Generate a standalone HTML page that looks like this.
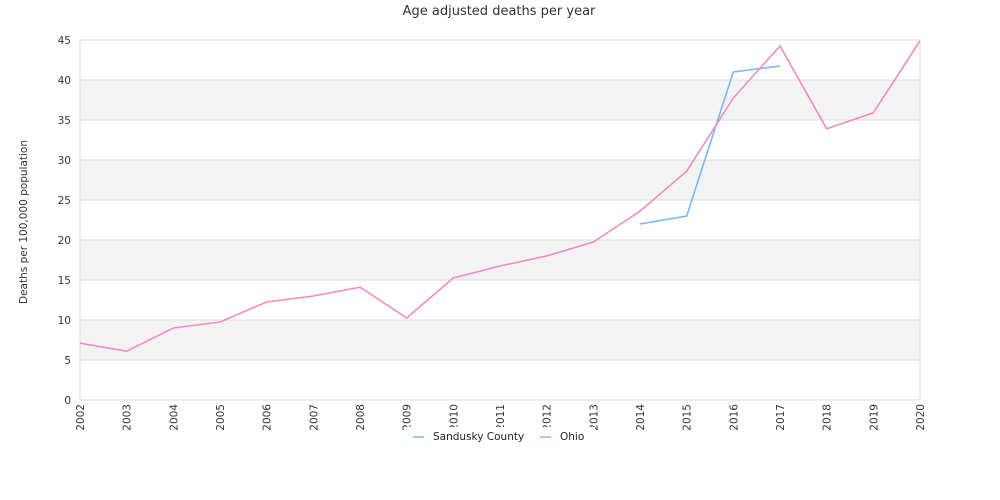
<!DOCTYPE html>
<html><head><meta charset="utf-8"><style>
body{margin:0;background:#fff;font-family:"DejaVu Sans","Liberation Sans",sans-serif}
svg text{font-family:"DejaVu Sans","Liberation Sans",sans-serif}
</style></head><body>
<svg id="c" width="1000" height="500" style="display:block">
<text x="499" y="15" text-anchor="middle" font-size="13" fill="#333">Age adjusted deaths per year</text>
<text transform="translate(27,222) rotate(-90)" text-anchor="middle" font-size="10.5" fill="#333">Deaths per 100,000 population</text>
<g id="grid"></g><g id="xl"></g><g id="lines"></g>
<g>
<rect x="405" y="427" width="190" height="18" fill="#fff"/>
<line x1="413" y1="437" x2="424" y2="437" stroke="#9cc9f2" stroke-width="2"/>
<text x="433" y="440" font-size="10.5" fill="#222">Sandusky County</text>
<line x1="540" y1="437" x2="551" y2="437" stroke="#f7a9cc" stroke-width="2"/>
<text x="560" y="440" font-size="10.5" fill="#222">Ohio</text>
</g>
</svg>
<script>
const years=[2002,2003,2004,2005,2006,2007,2008,2009,2010,2011,2012,2013,2014,2015,2016,2017,2018,2019,2020];
const yTicks=[0,5,10,15,20,25,30,35,40,45];
const ohio=[7.1,6.1,9.0,9.75,12.25,13,14.1,10.25,15.25,16.75,18,19.75,23.6,28.6,37.75,44.25,33.9,35.9,44.9];
const sandusky=[null,null,null,null,null,null,null,null,null,null,null,null,22,23,41,41.75,null,null,null];
const X0=80,X1=920,Y0=400,Y1=40;
const xs=i=>X0+(X1-X0)*i/(years.length-1);
const ys=v=>Y0-(Y0-Y1)*v/45;
const NS="http://www.w3.org/2000/svg";
function mk(t,a,p){const e=document.createElementNS(NS,t);for(const k in a)e.setAttribute(k,a[k]);p.appendChild(e);return e;}
const g=document.getElementById('grid');
for(let i=0;i<yTicks.length-1;i++){
 if(i%2==1){const r=mk('rect',{x:X0,y:ys(yTicks[i+1]),width:X1-X0,height:ys(yTicks[i])-ys(yTicks[i+1]),fill:'#f3f3f3'},g);
 
 }
}
yTicks.forEach(t=>{
 const l=mk('line',{x1:X0,x2:X1,y1:ys(t),y2:ys(t),stroke:'#ddd'},g);
 
 
 const tx=mk('text',{x:71,y:ys(t)+4,'text-anchor':'end','font-size':'10.5',fill:'#333'},g);
 tx.textContent=t;
 
 
});
mk('line',{x1:X0,x2:X0,y1:Y1,y2:Y0,stroke:'#ddd'},g);
mk('line',{x1:X1,x2:X1,y1:Y1,y2:Y0,stroke:'#ddd'},g);
const xl=document.getElementById('xl');
years.forEach((y,i)=>{
 const t=mk('text',{transform:`translate(${xs(i)+4},404) rotate(-90)`,'text-anchor':'end','font-size':'10.5',fill:'#333'},xl);
 t.textContent=y;
 
 
});
const L=document.getElementById('lines');
function line(arr,col,name){
 let d='',pen=false;
 arr.forEach((v,i)=>{if(v==null){pen=false;return;}d+=(pen?'L':'M')+xs(i)+','+ys(v);pen=true;});
 const p=mk('path',{d:d,fill:'none',stroke:col,'stroke-width':1.6},L);
 
 
}
line(sandusky,'#79b8f0','sandusky-line');
line(ohio,'#f28cbc','ohio-line');
</script>
</body></html>
